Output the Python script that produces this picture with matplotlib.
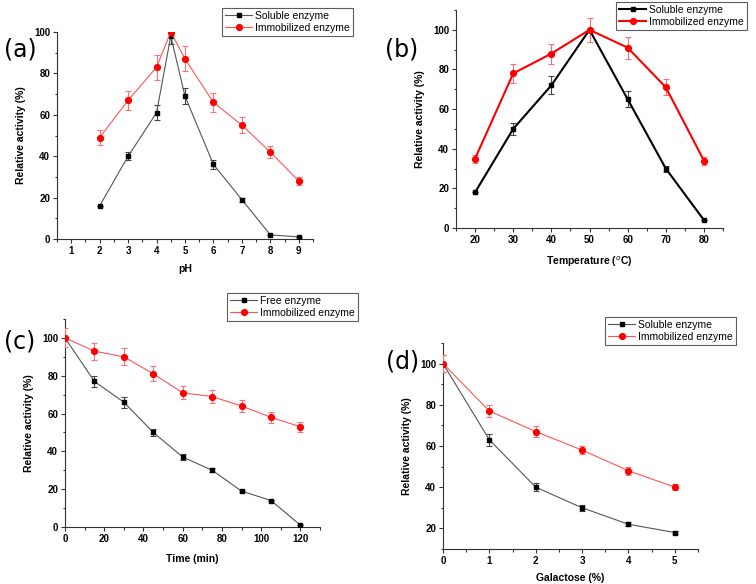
import matplotlib
matplotlib.use('Agg')
import matplotlib.pyplot as plt
from matplotlib.lines import Line2D
from matplotlib.ticker import MultipleLocator

plt.rcParams['font.family'] = ['Liberation Sans', 'DejaVu Sans']

# (a) pH
ph = [2, 3, 4, 4.5, 5, 6, 7, 8, 9]
ph_sol = [16, 40, 61, 98, 69, 36, 19, 2, 1]
ph_sol_err = [0, 2, 3.5, 4, 4, 2, 1, 0, 0]
ph_imm = [49, 67, 83, 100, 87, 66, 55, 42, 28]
ph_imm_err = [3.5, 4.5, 6, 1, 6, 4.5, 4, 3, 2]

# (b) temperature
temp = [20, 30, 40, 50, 60, 70, 80]
t_sol = [18, 50, 72, 100, 65, 30, 4]
t_sol_err = [0, 3, 4.5, 0, 4, 1.5, 0]
t_imm = [35, 78, 88, 100, 91, 71, 34]
t_imm_err = [2, 5, 5, 6, 5.5, 4, 2]

# (c) time
time = [0, 15, 30, 45, 60, 75, 90, 105, 120]
c_free = [100, 77, 66, 50, 37, 30, 19, 14, 1]
c_free_err = [0, 3, 3, 2, 1.5, 1, 0.5, 0.5, 0]
c_imm = [100, 93, 90, 81, 71, 69, 64, 58, 53]
c_imm_err = [5, 4.5, 4.5, 4, 3.5, 3.5, 3, 3, 2.5]

# (d) galactose
gal = [0, 1, 2, 3, 4, 5]
d_sol = [100, 63, 40, 30, 22, 18]
d_sol_err = [4, 3, 2, 1.5, 1, 0.5]
d_imm = [100, 77, 67, 58, 48, 40]
d_imm_err = [4, 3, 2.5, 2, 2, 1.5]

W, H = 756, 584
fig = plt.figure(figsize=(W / 100, H / 100), dpi=100)


def px_axes(l, t, r, b):
    return fig.add_axes([l / W, 1 - b / H, (r - l) / W, (b - t) / H])


def style(ax, xmaj, xmin, ymaj, ymin):
    for s in ['top', 'right']:
        ax.spines[s].set_visible(False)
    for s in ['left', 'bottom']:
        ax.spines[s].set_color('#333333')
        ax.spines[s].set_linewidth(0.8)
    ax.xaxis.set_major_locator(MultipleLocator(xmaj))
    ax.xaxis.set_minor_locator(MultipleLocator(xmin))
    ax.yaxis.set_major_locator(MultipleLocator(ymaj))
    ax.yaxis.set_minor_locator(MultipleLocator(ymin))
    ax.tick_params(which='major', length=3, width=0.8, color='#333333', labelsize=7, pad=2)
    ax.tick_params(which='minor', length=1.8, width=0.8, color='#333333')
    for lab in ax.get_xticklabels() + ax.get_yticklabels():
        lab.set_fontweight('bold')


def draw(ax, x, s, se, i, ie, lab1, lab2, thick=False, legpos=None):
    lw = 1.5 if thick else 0.8
    lc1 = 'black' if thick else '#555555'
    lc2 = '#ff0000' if thick else '#ff5555'
    ax.errorbar(x, s, yerr=se, color=lc1, lw=lw, marker='s', ms=3.5, mfc='black', mec='black',
                ecolor='#444444', elinewidth=0.8, capsize=2.2, capthick=0.8, zorder=3)
    ax.errorbar(x, i, yerr=ie, color=lc2, lw=lw, marker='o', ms=4.2, mfc='#ff0000', mec='#ff0000',
                ecolor='#ff7070', elinewidth=0.8, capsize=2.2, capthick=0.8, zorder=3)
    h = [Line2D([], [], color=lc1, lw=lw, marker='s', ms=3.5, mfc='black', mec='black'),
         Line2D([], [], color=lc2, lw=lw, marker='o', ms=4.2, mfc='#ff0000', mec='#ff0000')]
    leg = fig.legend(h, [lab1, lab2], loc='upper left',
                     bbox_to_anchor=(legpos[0] / W, 1 - legpos[1] / H),
                     fontsize=7.5, frameon=True, fancybox=False, handlelength=2.6,
                     borderpad=0.3, labelspacing=0.15, handletextpad=0.3, borderaxespad=0)
    leg.get_frame().set_edgecolor('#333333')
    leg.get_frame().set_linewidth(0.8)


def labels(ax, xl, yl, xpad):
    ax.set_xlabel(xl, fontsize=7.5, fontweight='bold', labelpad=xpad)
    ax.set_ylabel(yl, fontsize=7.5, fontweight='bold', labelpad=6)


def tag(x, y, s):
    fig.text(x / W, 1 - y / H, s, fontsize=17, family='DejaVu Sans', ha='center', va='center')


# (a)
ax = px_axes(57, 32, 313, 239)
draw(ax, ph, ph_sol, ph_sol_err, ph_imm, ph_imm_err, 'Soluble enzyme', 'Immobilized enzyme',
     legpos=(222, 8))
ax.set_xlim(0.5, 9.5)
ax.set_ylim(0, 100)
style(ax, 1, 0.5, 20, 10)
labels(ax, 'pH', 'Relative activity (%)', 6)
tag(20, 50, '(a)')

# (b)
ax = px_axes(456, 10, 723, 228)
draw(ax, temp, t_sol, t_sol_err, t_imm, t_imm_err, 'Soluble enzyme', 'Immobilized enzyme',
     thick=True, legpos=(616, 2))
ax.set_xlim(15, 85)
ax.set_ylim(0, 110)
style(ax, 10, 5, 20, 10)
labels(ax, 'Temperature ($^{o}$C)', 'Relative activity (%)', 7)
tag(402, 50, '(b)')

# (c)
ax = px_axes(65, 319, 320, 527)
draw(ax, time, c_free, c_free_err, c_imm, c_imm_err, 'Free enzyme', 'Immobilized enzyme',
     legpos=(227, 293))
ax.set_xlim(0, 130)
ax.set_ylim(0, 110)
style(ax, 20, 10, 20, 10)
labels(ax, 'Time (min)', 'Relative activity (%)', 7)
tag(20, 341, '(c)')

# (d)
ax = px_axes(443, 343, 698, 549)
draw(ax, gal, d_sol, d_sol_err, d_imm, d_imm_err, 'Soluble enzyme', 'Immobilized enzyme',
     legpos=(605, 317))
ax.set_xlim(0, 5.5)
ax.set_ylim(10, 110)
style(ax, 1, 0.5, 20, 10)
labels(ax, 'Galactose (%)', 'Relative activity (%)', 5)
tag(403, 362, '(d)')

fig.savefig('out.png', dpi=100)
